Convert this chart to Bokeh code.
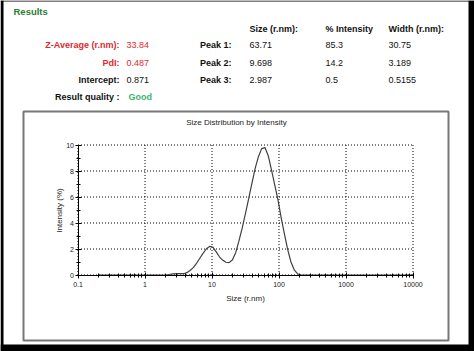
from bokeh.plotting import figure
from bokeh.models import (Range1d, LinearScale, LogScale, LinearAxis, LogAxis, FixedTicker)
from bokeh.core.properties import value
from bokeh.embed import file_html
from bokeh.resources import INLINE
from math import pi, log10

# ---- data ----
sizes = [0.2, 0.3, 0.5, 0.7, 1.0, 1.5, 2.0, 2.3, 2.6, 3.0, 3.4, 3.8, 4.2, 4.7, 5.2,
         5.8, 6.5, 7.3, 8.2, 9.2, 10.3, 11.5, 12.9, 14.4, 16.1, 18.0, 20.1, 22.5,
         25.2, 28.2, 31.5, 35.2, 39.4, 44.1, 49.3, 55.1, 61.6, 68.9, 77.1, 86.2,
         96.4, 107.8, 120.6, 134.9, 150.8, 168.7, 188.7, 211, 300, 500, 1000,
         2000, 5000, 10000]
intensity = [0, 0, 0, 0, 0, 0, 0, 0.04, 0.08, 0.1, 0.1, 0.1, 0.18, 0.35, 0.55,
             0.85, 1.25, 1.65, 2.0, 2.2, 2.15, 1.8, 1.4, 1.15, 0.98, 0.95, 1.15, 1.7,
             2.6, 3.6, 4.7, 5.85, 7.05, 8.2, 9.1, 9.72, 9.8, 9.2, 8.1, 6.95,
             5.8, 4.4, 3.15, 1.95, 1.0, 0.4, 0.1, 0, 0, 0, 0,
             0, 0, 0]

x_min, x_max = 0.1, 10000
y_min, y_max = 0, 10
x_ticks = [0.1, 1, 10, 100, 1000, 10000]
x_tick_labels = ["0.1", "1", "10", "100", "1000", "10000"]
y_ticks = [0, 2, 4, 6, 8, 10]
y_minor = [1, 3, 5, 7, 9]

headers = ["Size (r.nm):", "% Intensity", "Width (r.nm):"]
peak_names = ["Peak 1:", "Peak 2:", "Peak 3:"]
peak_size = ["63.71", "9.698", "2.987"]
peak_int = ["85.3", "14.2", "0.5"]
peak_width = ["30.75", "3.189", "0.5155"]
left_names = ["Z-Average (r.nm):", "PdI:", "Intercept:", "Result quality :"]
left_values = ["33.84", "0.487", "0.871", "Good"]

FONT = "Liberation Sans"
W, H = 474, 351
# plot area in page pixels (half-pixel aligned for crisp 1px lines)
PX_L, PX_R, PX_T, PX_B = 77.5, 412.5, 144.5, 274.5

p = figure(width=W, height=H, x_range=Range1d(0, W), y_range=Range1d(H, 0),
           x_axis_location=None, y_axis_location=None, min_border=0,
           output_backend="svg", toolbar_location=None)
p.background_fill_color = "white"
p.border_fill_color = "white"
p.outline_line_color = None
p.grid.visible = False

# log x range / linear y range laid over the whole canvas so that the plot
# area lands on PX_L..PX_R, PX_T..PX_B
dec = (PX_R - PX_L) / (log10(x_max) - log10(x_min))
lx0 = log10(x_min) - PX_L / dec
lx1 = log10(x_max) + (W - PX_R) / dec
upp = (y_max - y_min) / (PX_B - PX_T)
ys0 = y_min - (H - PX_B) * upp
ys1 = y_max + PX_T * upp
p.extra_x_ranges = {"size": Range1d(10 ** lx0, 10 ** lx1)}
p.extra_y_ranges = {"int": Range1d(ys0, ys1)}
p.extra_x_scales = {"size": LogScale()}
p.extra_y_scales = {"int": LinearScale()}

# outer black border and chart frame
p.quad(left=[0, 0, 468, 0], right=[3, W, W, W], top=[0, 0, 0, 344], bottom=[H, 1, H, H],
       fill_color="black", line_color=None)
p.quad(left=[23], right=[448], top=[111], bottom=[340], fill_color=None,
       line_color="#777777", line_width=2)

# dotted grid from the tick arrays
p.segment(x0=x_ticks, y0=[y_min] * len(x_ticks), x1=x_ticks, y1=[y_max] * len(x_ticks),
          x_range_name="size", y_range_name="int", line_color="black",
          line_dash="1 2", line_width=1)
p.segment(x0=[x_min] * len(y_ticks), y0=y_ticks, x1=[x_max] * len(y_ticks), y1=y_ticks,
          x_range_name="size", y_range_name="int", line_color="black",
          line_dash="1 2", line_width=1)

p.line(sizes, intensity, x_range_name="size", y_range_name="int",
       line_color="#404040", line_width=1.2)

minor_x = [m * d for d in [0.1, 1, 10, 100, 1000] for m in range(2, 10)]
xaxis = LogAxis(x_range_name="size", y_range_name="int", fixed_location=y_min,
                bounds=(x_min, x_max),
                ticker=FixedTicker(ticks=x_ticks, minor_ticks=minor_x))
xaxis.major_label_overrides = {v: l for v, l in zip(x_ticks, x_tick_labels)}
yaxis = LinearAxis(x_range_name="size", y_range_name="int", fixed_location=x_min,
                   bounds=(y_min, y_max),
                   ticker=FixedTicker(ticks=y_ticks, minor_ticks=y_minor))
for ax in (xaxis, yaxis):
    ax.axis_line_color = "black"
    ax.axis_line_width = 1
    ax.major_tick_line_color = "black"
    ax.minor_tick_line_color = "black"
    ax.major_tick_in = 3
    ax.major_tick_out = 3
    ax.minor_tick_in = 2
    ax.minor_tick_out = 2
    ax.major_label_text_font = FONT
    ax.major_label_text_font_size = "7px"
    ax.major_label_text_color = "#222222"
xaxis.major_label_standoff = 4
yaxis.major_label_standoff = 1
p.add_layout(xaxis, "below")
p.add_layout(yaxis, "left")


def lab(x, y, text, color="#111111", bold=False, align="left", size="9px", angle=0):
    p.text(x=[x], y=[y], text=[text], text_font=value(FONT), text_font_size=size,
           text_color=color, text_font_style="bold" if bold else "normal",
           text_align=align, text_baseline="middle", angle=angle)


lab(13, 11, "Results", color="#2e7d32", bold=True, size="9.5px")
cols = [249, 325, 388]
for c, h in zip(cols, headers):
    lab(c, 28, h, bold=True)
rows = [44, 62, 79]
for i, y in enumerate(rows):
    lab(231, y, peak_names[i], bold=True, align="right")
    lab(cols[0], y, peak_size[i])
    lab(cols[1], y, peak_int[i])
    lab(cols[2], y, peak_width[i])
left_colors = ["#e0282e", "#e0282e", "#111111", "#111111"]
val_colors = ["#e0282e", "#e0282e", "#111111", "#3cb371"]
for i, y in enumerate([44, 62, 79, 96]):
    lab(119, y, left_names[i], color=left_colors[i], bold=True, align="right")
    lab(126 if i < 3 else 128, y, left_values[i], color=val_colors[i], bold=(i == 3))

lab(236, 122, "Size Distribution by Intensity", color="#222222", size="8px", align="center")
lab(245, 298, "Size (r.nm)", color="#222222", size="8px", align="center")
lab(59, 210, "Intensity (%)", color="#222222", size="8px", align="center", angle=pi / 2)

open("out.html", "w").write(file_html(p, INLINE))
